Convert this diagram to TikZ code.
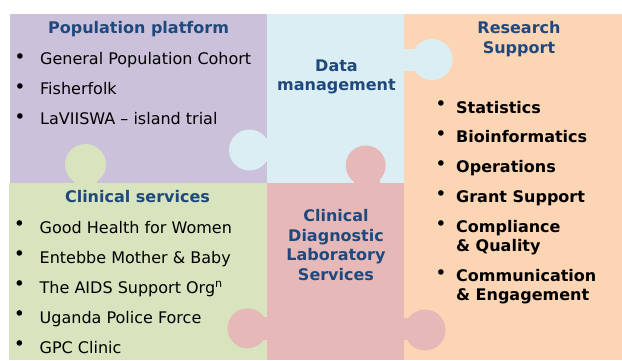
\documentclass[tikz,border=0pt]{standalone}
\usepackage{fontspec}
\setmainfont{DejaVu Sans}
\usetikzlibrary{positioning}

\definecolor{popcol}{HTML}{CCC1DA}
\definecolor{datacol}{HTML}{DBEEF4}
\definecolor{rescol}{HTML}{FCD5B5}
\definecolor{clincol}{HTML}{D7E4BD}
\definecolor{labcol}{HTML}{E6B9B8}
\definecolor{headcol}{HTML}{1F497D}

\begin{document}
\begin{tikzpicture}[x=1pt,y=-1pt,
                    head/.style={font=\fontsize{16}{19.5}\selectfont\bfseries,text=headcol,
                                 align=center,inner sep=0pt,anchor=base},
                    item/.style={font=\fontsize{16}{19.5}\selectfont,inner sep=0pt,anchor=base west},
                    bitem/.style={item,font=\fontsize{16}{19}\selectfont\bfseries,align=left},
                    dot/.style={font=\fontsize{19}{19}\selectfont,inner sep=0pt,anchor=base}]

\useasboundingbox (0,0) rectangle (622,360);

% puzzle pieces
\fill[popcol] (10,14) rectangle (267.3,183);
\fill[datacol] (267.3,14) rectangle (404,183);
\fill[rescol] (404,14) rectangle (622,360);
\fill[clincol] (9,183) rectangle (267.3,360);
\fill[labcol] (267.3,183) rectangle (404,360);

% knobs
\fill[clincol] (85.5,164.5) circle[radius=20.5];
\fill[clincol] (74,164) rectangle (97,183.5);
\fill[datacol] (249.5,150) circle[radius=20.5];
\fill[datacol] (249,139) rectangle (267.8,161);
\fill[datacol] (432,59.5) circle[radius=20.5];
\fill[datacol] (403.5,49) rectangle (420,71);
\fill[labcol] (365.7,165.5) circle[radius=20];
\fill[labcol] (354,165) rectangle (380,183.5);
\fill[labcol] (247.5,328.3) circle[radius=20];
\fill[labcol] (247,317) rectangle (267.8,340);
\fill[labcol] (425,330) circle[radius=20.5];
\fill[labcol] (403.5,318) rectangle (425,340);


% headings (base = last line)
\node[head] (pop) at (138.5,33.3) {Population platform};
\node[head] (data) at (336.5,90.7) {Data\\management};
\node[head] (res) at (519,53.3) {Research\\Support};
\node[head] (clin) at (137.5,202.7) {Clinical services};
\node[head] (lab) at (336,280) {Clinical\\Diagnostic\\Laboratory\\Services};


% population platform
\node[item] (p1) at (40,64) {General Population Cohort};
\node[item] (p2) at (40,94) {Fisherfolk};
\node[item] (p3) at (40,124) {LaVIISWA – island trial};
\node[dot] (p1b) at (20,63) {•};
\node[dot] (p2b) at (20,93) {•};
\node[dot] (p3b) at (20,123) {•};


% clinical services
\node[item] (c1) at (39.5,233.3) {Good Health for Women};
\node[item] (c2) at (39.5,263.3) {Entebbe Mother \& Baby};
\node[item] (c3) at (39.5,293.3) {The AIDS Support Org\textsuperscript{n}};
\node[item] (c4) at (39.5,323.3) {Uganda Police Force};
\node[item] (c5) at (39.5,353.3) {GPC Clinic};
\node[dot] (c1b) at (19.5,230) {•};
\node[dot] (c2b) at (19.5,260) {•};
\node[dot] (c3b) at (19.5,290) {•};
\node[dot] (c4b) at (19.5,320) {•};
\node[dot] (c5b) at (19.5,350) {•};


% research support
\node[bitem] (r1) at (456,113.3) {Statistics};
\node[bitem] (r2) at (456,142.7) {Bioinformatics};
\node[bitem] (r3) at (456,172.3) {Operations};
\node[bitem] (r4) at (456,202.7) {Grant Support};
\node[bitem] (r5) at (456,251.7) {Compliance\\\& Quality};
\node[bitem] (r6) at (456,300.7) {Communication\\\& Engagement};
\node[dot] (r1b) at (441,110.5) {•};
\node[dot] (r2b) at (441,140.5) {•};
\node[dot] (r3b) at (441,170.5) {•};
\node[dot] (r4b) at (441,200) {•};
\node[dot] (r5b) at (441,230) {•};
\node[dot] (r6b) at (441,279.5) {•};

\end{tikzpicture}
\end{document}
